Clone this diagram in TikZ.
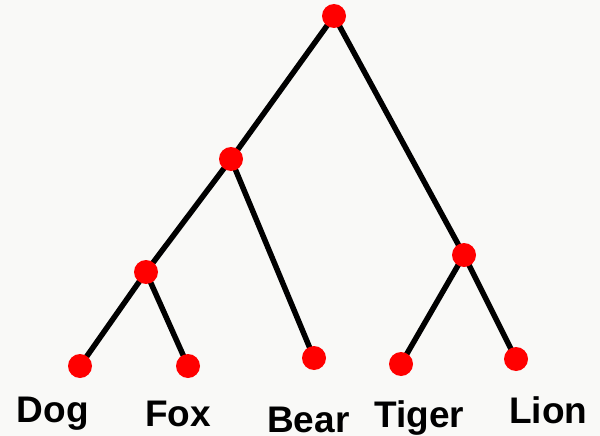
\documentclass[tikz,border=0pt]{standalone}
\usepackage{fontspec}
\setmainfont{Liberation Sans}
\pgfdeclarelayer{background}
\pgfsetlayers{background,main}
\definecolor{paper}{RGB}{249,249,247}
\definecolor{dotred}{RGB}{255,0,0}
\tikzset{
  dot/.style={circle, fill=dotred, minimum size=24pt, inner sep=0pt},
  branch/.style={line width=5.5pt, black},
  leaflabel/.style={anchor=base west, inner sep=0pt, text depth=0pt,
    font=\bfseries\fontsize{37}{37}\selectfont}
}
\begin{document}
\begin{tikzpicture}[x=1pt, y=-1pt]
  \useasboundingbox (0,0) rectangle (600,436);

  % internal nodes
  \node[dot] (root)   at (334,16)  {};
  \node[dot] (canid)  at (231,159) {};
  \node[dot] (dogfox) at (146,272) {};
  \node[dot] (felid)  at (464,255) {};

  % leaves
  \node[dot] (dog)   at (80,366)  {};
  \node[dot] (fox)   at (188,366) {};
  \node[dot] (bear)  at (314,358) {};
  \node[dot] (tiger) at (401,364) {};
  \node[dot] (lion)  at (516,359) {};

  % canvas and branches behind the dots
  \begin{pgfonlayer}{background}
    \fill[paper] (0,0) rectangle (600,436);
    \draw[branch] (root.center) -- (canid.center);
    \draw[branch] (root.center) -- (felid.center);
    \draw[branch] (canid.center) -- (dogfox.center);
    \draw[branch] (canid.center) -- (bear.center);
    \draw[branch] (dogfox.center) -- (dog.center);
    \draw[branch] (dogfox.center) -- (fox.center);
    \draw[branch] (felid.center) -- (tiger.center);
    \draw[branch] (felid.center) -- (lion.center);
  \end{pgfonlayer}

  % labels
  \node[leaflabel] (ldog)   at (16.5,422) {Dog};
  \node[leaflabel] (lfox)   at (145,426)  {Fox};
  \node[leaflabel] (lbear)  at (267,432)  {Bear};
  \node[leaflabel] (ltiger) at (374,427)  {Tiger};
  \node[leaflabel] (llion)  at (509,423)  {Lion};
\end{tikzpicture}
\end{document}
